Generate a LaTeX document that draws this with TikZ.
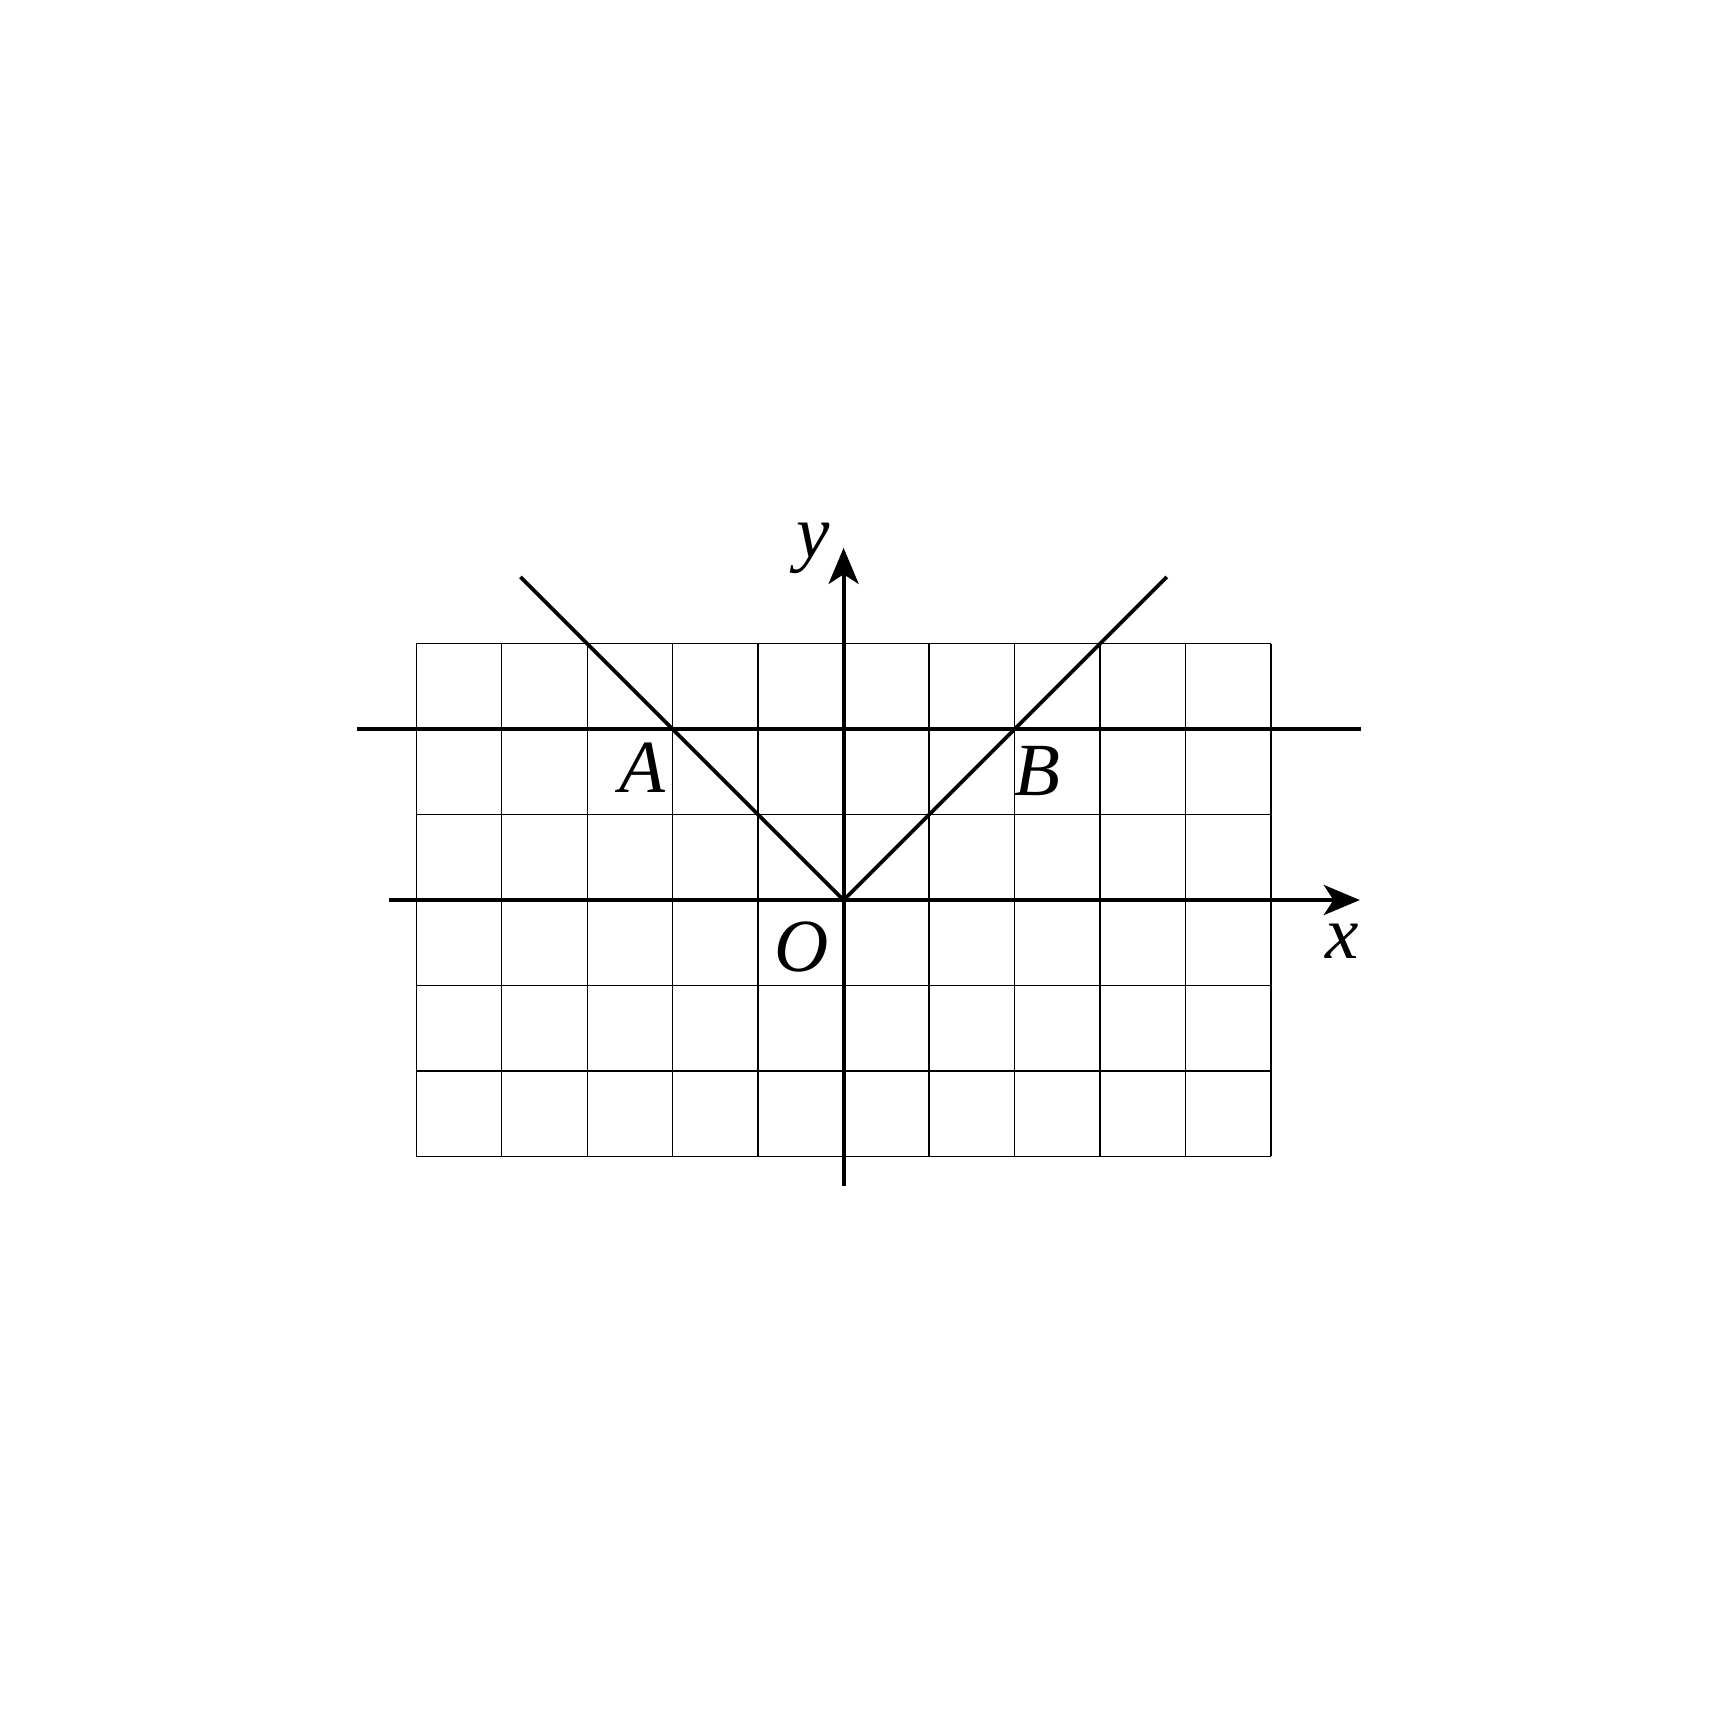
\documentclass[tikz,border=0pt]{standalone}
\usepackage{fontspec}
\setmainfont{Liberation Serif}
\usetikzlibrary{arrows.meta}
\tikzset{
  gridline/.style={line width=0.22pt},
  axis/.style={
    line width=0.68pt,
    -{Stealth[length=6pt,width=5pt,inset=1.6pt]}
  },
  thick-line/.style={line width=0.62pt},
  label-text/.style={
    font=\fontsize{12.5}{15}\selectfont\itshape,
    inner sep=0pt
  }
}

\begin{document}
\begin{tikzpicture}[x=0.5cm,y=0.5cm]
  \useasboundingbox (-9.87,-9.56) rectangle (10.23,10.53);
  % grid
  \foreach \x in {-5,...,5} {
    \draw[gridline] (\x,-3) -- (\x,3);
  }
  \foreach \y in {-3,...,3} {
    \draw[gridline] (-5,\y) -- (5,\y);
  }
  \coordinate (O) at (0,0);
  \coordinate (A) at (-2,2);
  \coordinate (B) at (2,2);
  \coordinate (lstart) at (-3.78,3.78);
  \coordinate (rend) at (3.78,3.78);
  % axes
  \draw[axis] (-5.32,0) -- (6.04,0);
  \draw[axis] (0,-3.35) -- (0,4.12);
  % lines
  \draw[thick-line] (-5.69,2) -- (6.05,2);
  \draw[thick-line] (lstart) -- (O) -- (rend);
  % labels
  \node[label-text] (ylab) at (-0.36,4.11) {y};
  \node[label-text] (xlab) at (5.83,-0.48) {x};
  \node[label-text] (olab) at (-0.49,-0.55) {O};
  \node[label-text] (alab) at (-2.35,1.55) {A};
  \node[label-text] (blab) at (2.27,1.51) {B};
\end{tikzpicture}
\end{document}
